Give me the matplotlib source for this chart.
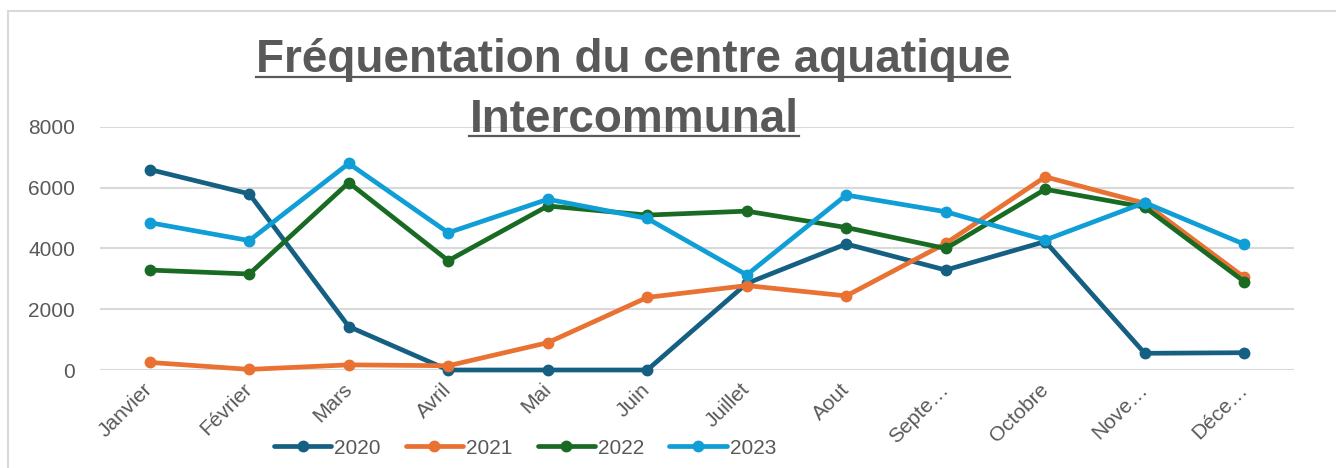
import matplotlib
matplotlib.use("Agg")
import matplotlib.pyplot as plt
from matplotlib.lines import Line2D
from matplotlib.patches import Rectangle

months = ["Janvier", "Février", "Mars", "Avril", "Mai", "Juin", "Juillet",
          "Aout", "Septe…", "Octobre", "Nove…", "Déce…"]
yticks = [0, 2000, 4000, 6000, 8000]

v2020 = [6600, 5800, 1430, 0, 0, 0, 2850, 4150, 3290, 4230, 550, 570]
v2021 = [250, 20, 170, 140, 900, 2390, 2780, 2440, 4170, 6360, 5490, 3050]
v2022 = [3290, 3160, 6170, 3600, 5400, 5100, 5230, 4690, 4000, 5950, 5360, 2910]
v2023 = [4850, 4260, 6800, 4520, 5620, 4990, 3130, 5760, 5210, 4280, 5510, 4140]

series = [("2020", v2020, "#156082"), ("2021", v2021, "#E97132"),
          ("2022", v2022, "#196B24"), ("2023", v2023, "#0F9ED5")]

W, H = 1336, 468
fig = plt.figure(figsize=(W / 100, H / 100), dpi=100)
fig.patch.set_facecolor("white")

fam = ["Liberation Sans", "DejaVu Sans"]

# chart border (top and left visible)
fig.add_artist(Rectangle((8 / W, -0.1), 1.2, 1 - 11 / H + 0.1,
                         transform=fig.transFigure, fill=False,
                         edgecolor="#D9D9D9", linewidth=1.5))

ax = fig.add_axes([100 / W, 1 - 370 / H, (1294 - 100) / W, (370 - 127) / H])
ax.set_facecolor("none")
x = list(range(len(months)))
for name, vals, col in series:
    ax.plot(x, vals, color=col, linewidth=3.4, marker="o", markersize=7.5,
            label=name, clip_on=False, solid_capstyle="round", zorder=3)

ax.set_xlim(-0.5, len(months) - 0.5)
ax.set_ylim(0, 8000)
ax.set_yticks(yticks)
ax.set_yticklabels([str(t) for t in yticks], fontsize=15, color="#595959",
                   family=fam)
ax.grid(axis="y", color="#D9D9D9", linewidth=1.5, zorder=0)
ax.set_axisbelow(True)
for s in ax.spines.values():
    s.set_visible(False)
ax.tick_params(axis="both", length=0)
ax.tick_params(axis="y", pad=18)
ax.set_xticks(x)
ax.set_xticklabels(months, rotation=45, ha="right", va="center",
                   rotation_mode="anchor", fontsize=15, color="#595959",
                   family=fam)
ax.tick_params(axis="x", pad=12)

leg = fig.legend(loc="center", bbox_to_anchor=(525 / W, 1 - 448 / H), ncol=4,
                 frameon=False, handlelength=2.75, handletextpad=0.15,
                 columnspacing=1.2, prop={"family": fam, "size": 15})
for t in leg.get_texts():
    t.set_color("#595959")

t1 = fig.text(633 / W, 1 - 72 / H, "Fréquentation du centre aquatique",
              ha="center", va="baseline", fontsize=33, fontweight="bold",
              color="#595959", family=fam)
t2 = fig.text(634 / W, 1 - 132 / H, "Intercommunal",
              ha="center", va="baseline", fontsize=33, fontweight="bold",
              color="#595959", family=fam)

fig.canvas.draw()
r = fig.canvas.get_renderer()
for t, uy in ((t1, 77), (t2, 136)):
    bb = t.get_window_extent(r)
    fig.add_artist(Line2D([bb.x0 / W, bb.x1 / W], [1 - uy / H, 1 - uy / H],
                          transform=fig.transFigure, color="#595959", linewidth=1.6))

fig.savefig("out.png", dpi=100)
